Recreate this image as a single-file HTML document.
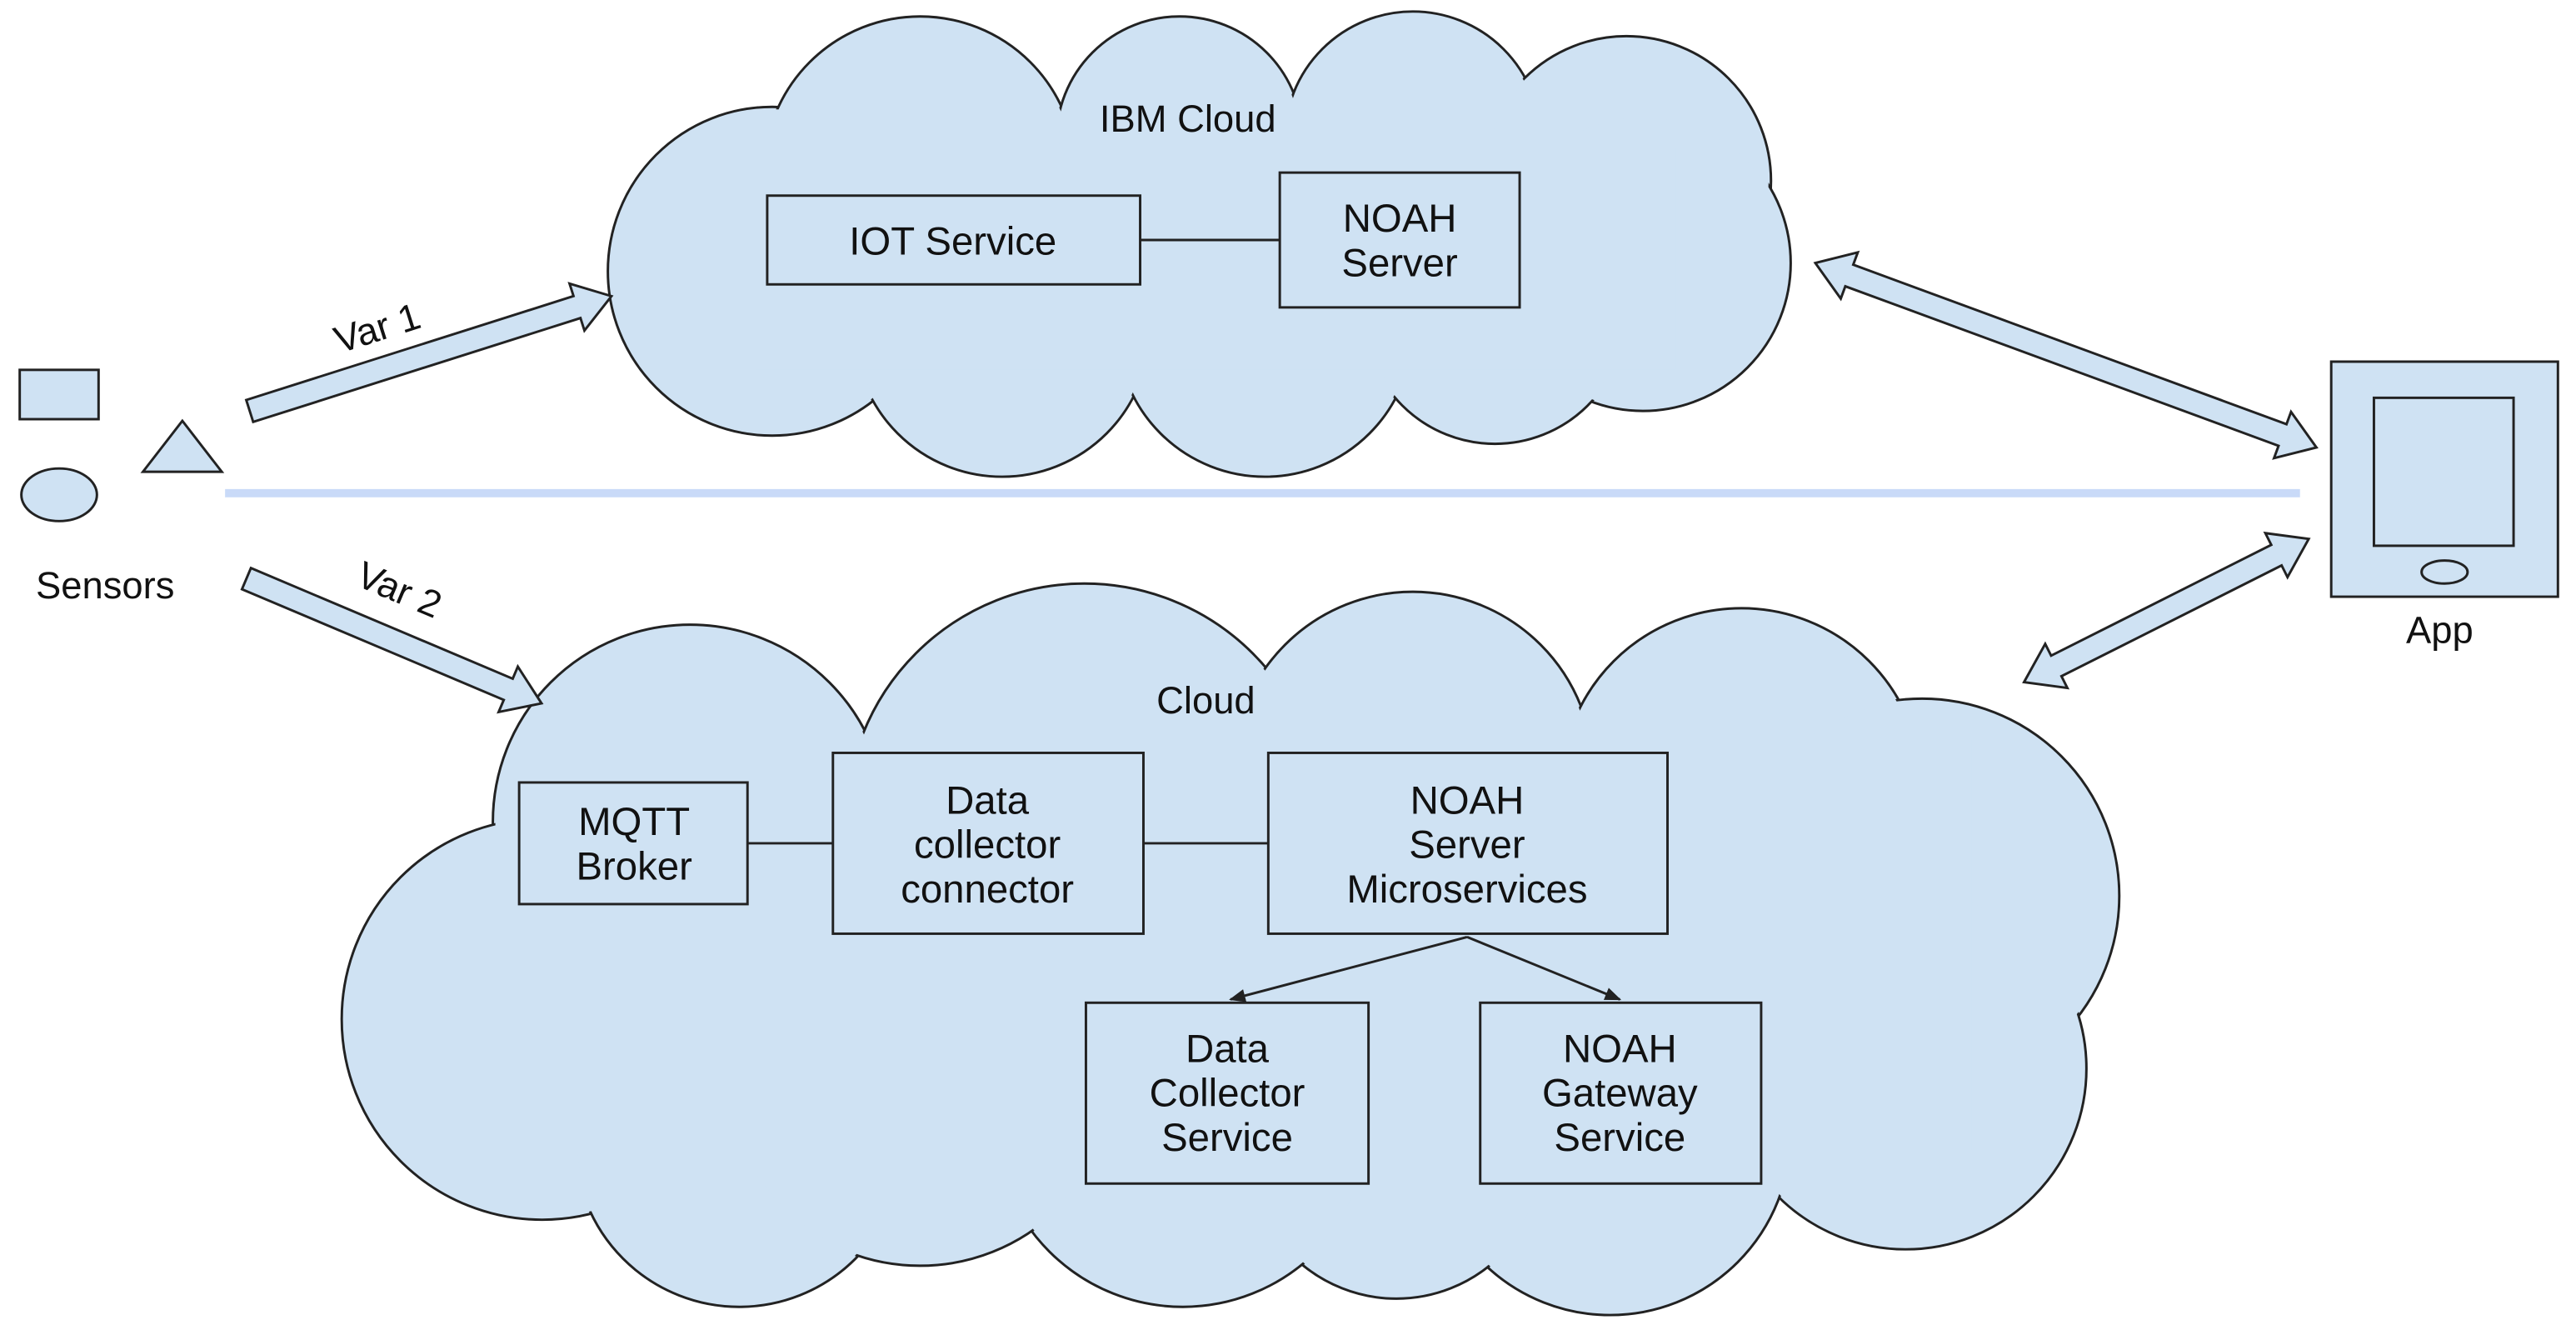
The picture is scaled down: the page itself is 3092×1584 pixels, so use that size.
<!DOCTYPE html>
<html><head><meta charset="utf-8"><style>
html,body{margin:0;padding:0;background:#fff}
svg{display:block}
text{font-family:"Liberation Sans",sans-serif;fill:#111}
</style></head><body>
<svg width="3092" height="1584" viewBox="0 0 1568 803" preserveAspectRatio="none" xmlns="http://www.w3.org/2000/svg">
<defs>
<marker id="ah" markerWidth="10" markerHeight="10" refX="9" refY="5" orient="auto" markerUnits="userSpaceOnUse"><path d="M0,1 L10,5 L0,9 Z" fill="#222"/></marker>
</defs>
<!-- top cloud -->
<g stroke="#222" stroke-width="1.5" fill="#cfe2f3">
<circle cx="470" cy="165" r="100"/><circle cx="560" cy="105" r="95"/><circle cx="718" cy="85" r="75"/>
<circle cx="860" cy="85" r="78"/><circle cx="990" cy="110" r="88"/><circle cx="1000" cy="160" r="90"/>
<circle cx="610" cy="200" r="90"/><circle cx="770" cy="200" r="90"/><circle cx="910" cy="190" r="80"/>
</g>
<g fill="#cfe2f3">
<circle cx="470" cy="165" r="98.5"/><circle cx="560" cy="105" r="93.5"/><circle cx="718" cy="85" r="73.5"/>
<circle cx="860" cy="85" r="76.5"/><circle cx="990" cy="110" r="86.5"/><circle cx="1000" cy="160" r="88.5"/>
<circle cx="610" cy="200" r="88.5"/><circle cx="770" cy="200" r="88.5"/><circle cx="910" cy="190" r="78.5"/>
<rect x="460" y="90" width="560" height="135"/>
</g>
<!-- bottom cloud -->
<g stroke="#222" stroke-width="1.5" fill="#cfe2f3">
<circle cx="420" cy="500" r="120"/><circle cx="330" cy="620" r="122"/><circle cx="450" cy="695" r="100"/>
<circle cx="660" cy="500" r="145"/><circle cx="860" cy="470" r="110"/><circle cx="1060" cy="480" r="110"/>
<circle cx="1170" cy="545" r="120"/><circle cx="1160" cy="650" r="110"/><circle cx="980" cy="690" r="110"/>
<circle cx="850" cy="700" r="90"/>
<circle cx="720" cy="680" r="115"/><circle cx="560" cy="650" r="120"/>
</g>
<g fill="#cfe2f3">
<circle cx="420" cy="500" r="118.5"/><circle cx="330" cy="620" r="120.5"/><circle cx="450" cy="695" r="98.5"/>
<circle cx="660" cy="500" r="143.5"/><circle cx="860" cy="470" r="108.5"/><circle cx="1060" cy="480" r="108.5"/>
<circle cx="1170" cy="545" r="118.5"/><circle cx="1160" cy="650" r="108.5"/><circle cx="980" cy="690" r="108.5"/>
<circle cx="850" cy="700" r="88.5"/>
<circle cx="720" cy="680" r="113.5"/><circle cx="560" cy="650" r="118.5"/>
<rect x="340" y="450" width="860" height="250"/>
</g>
<text x="723" y="80" font-size="23" text-anchor="middle">IBM Cloud</text>
<text x="734" y="434" font-size="23" text-anchor="middle">Cloud</text>
<!-- boxes -->
<g stroke="#222" stroke-width="1.5" fill="#cfe2f3">
<line x1="694" y1="146" x2="779" y2="146"/>
<line x1="455" y1="513" x2="507" y2="513"/>
<line x1="696" y1="513" x2="772" y2="513"/>
<rect x="467" y="119" width="227" height="54"/>
<rect x="779" y="105" width="146" height="82"/>
<rect x="316" y="476" width="139" height="74"/>
<rect x="507" y="458" width="189" height="110"/>
<rect x="772" y="458" width="243" height="110"/>
<rect x="661" y="610" width="172" height="110"/>
<rect x="901" y="610" width="171" height="110"/>
<line x1="893" y1="570" x2="749" y2="608" marker-end="url(#ah)"/>
<line x1="893" y1="570" x2="986" y2="608" marker-end="url(#ah)"/>
</g>
<g font-size="24" text-anchor="middle">
<text x="580" y="155">IOT Service</text>
<text x="852" y="141">NOAH</text><text x="852" y="168">Server</text>
<text x="386" y="508">MQTT</text><text x="386" y="535">Broker</text>
<text x="601" y="495">Data</text><text x="601" y="522">collector</text><text x="601" y="549">connector</text>
<text x="893" y="495">NOAH</text><text x="893" y="522">Server</text><text x="893" y="549">Microservices</text>
<text x="747" y="646">Data</text><text x="747" y="673">Collector</text><text x="747" y="700">Service</text>
<text x="986" y="646">NOAH</text><text x="986" y="673">Gateway</text><text x="986" y="700">Service</text>
</g>
<!-- sensors -->
<g stroke="#222" stroke-width="1.5" fill="#cfe2f3">
<rect x="12" y="225" width="48" height="30"/>
<ellipse cx="36" cy="301" rx="23" ry="16"/>
<polygon points="87,287 111,256 135,287"/>
</g>
<text x="64" y="364" font-size="23" text-anchor="middle">Sensors</text>
<line x1="137" y1="300" x2="1400" y2="300" stroke="#c9daf8" stroke-width="5"/>
<!-- app -->
<g stroke="#222" stroke-width="1.5" fill="#cfe2f3">
<rect x="1419" y="220" width="138" height="143"/>
<rect x="1445" y="242" width="85" height="90"/>
<ellipse cx="1488" cy="348" rx="14" ry="7"/>
</g>
<text x="1485" y="391" font-size="23" text-anchor="middle">App</text>
<!-- block arrows -->
<g stroke="#222" stroke-width="1.5" fill="#cfe2f3">
<g transform="translate(152,250) rotate(-17.6)"><polygon points="0,-7 209,-7 209,-15 231,0 209,15 209,7 0,7"/></g>
<g transform="translate(150,352) rotate(22.9)"><polygon points="0,-7 173,-7 173,-15 195,0 173,15 173,7 0,7"/></g>
<g transform="translate(1105,160) rotate(20.2)"><polygon points="0,0 22,-15 22,-7 303,-7 303,-15 325,0 303,15 303,7 22,7 22,15"/></g>
<g transform="translate(1232,415) rotate(-26.7)"><polygon points="0,0 22,-15 22,-7 172,-7 172,-15 194,0 172,15 172,7 22,7 22,15"/></g>
</g>
<text x="232" y="207" font-size="23" text-anchor="middle" transform="rotate(-17.6 232 207)">Var 1</text>
<text x="240" y="366" font-size="23" text-anchor="middle" transform="rotate(22.9 240 366)">Var 2</text>
</svg>
</body></html>
